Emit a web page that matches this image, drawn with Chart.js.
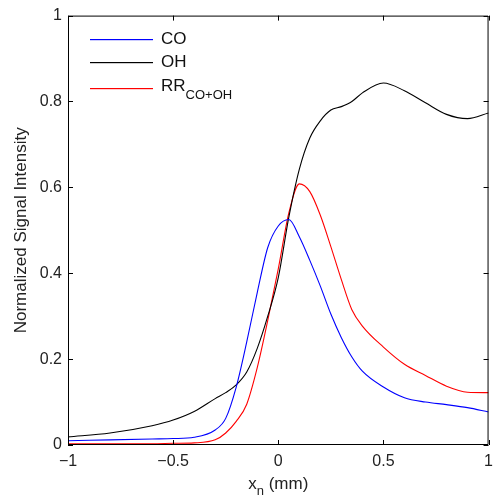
<!DOCTYPE html>
<html>
<head>
<meta charset="utf-8">
<script src="https://cdn.jsdelivr.net/npm/chart.js@4/dist/chart.umd.min.js"></script>
<style>
  html, body { margin: 0; padding: 0; background: #fff; }
  #wrap { width: 500px; height: 498px; }
</style>
</head>
<body>
<div id="wrap"><canvas id="c"></canvas></div>
<script>
// shared x grid (mm)
const xn = [-1, -0.8, -0.6, -0.5, -0.4, -0.3, -0.25, -0.2, -0.15, -0.1, -0.05, 0,
            0.05, 0.1, 0.15, 0.2, 0.25, 0.3, 0.35, 0.4, 0.5, 0.6, 0.7, 0.8, 0.9, 1];

const co = [0.010, 0.012, 0.014, 0.015, 0.018, 0.035, 0.062, 0.135, 0.24, 0.355, 0.46, 0.51,
            0.525, 0.485, 0.43, 0.37, 0.305, 0.25, 0.205, 0.172, 0.135, 0.11, 0.10, 0.094, 0.087, 0.077];

const oh = [0.019, 0.028, 0.045, 0.058, 0.078, 0.108, 0.122, 0.14, 0.17, 0.225, 0.30, 0.39,
            0.53, 0.642, 0.715, 0.755, 0.78, 0.788, 0.80, 0.82, 0.843, 0.825, 0.797, 0.77, 0.76, 0.773];

const rr = [0.003, 0.003, 0.003, 0.004, 0.005, 0.012, 0.028, 0.055, 0.095, 0.18, 0.29, 0.41,
            0.54, 0.608, 0.59, 0.535, 0.462, 0.385, 0.315, 0.277, 0.228, 0.188, 0.162, 0.137, 0.123, 0.122];

const xTicks = [-1, -0.5, 0, 0.5, 1];
const yTicks = [0, 0.2, 0.4, 0.6, 0.8, 1];

const font = "'Liberation Sans', Arial, sans-serif";

const toPoints = (ys) => xn.map((x, i) => ({ x: x, y: ys[i] }));

const line = (label, ys, color) => ({
    label: label,
    data: toPoints(ys),
    borderColor: color,
    borderWidth: 1.1,
    pointRadius: 0,
    fill: false,
    cubicInterpolationMode: 'monotone'
});

// box, inward ticks, axis titles and the legend (MATLAB look)
const decorations = {
    id: 'decorations',
    afterDraw(chart) {
        const ctx = chart.ctx;
        const a = chart.chartArea;
        const xs = chart.scales.x, ys = chart.scales.y;
        ctx.save();
        ctx.strokeStyle = '#000';
        ctx.lineWidth = 1;
        ctx.beginPath();
        ctx.rect(a.left + 0.5, a.top + 0.5, a.right - a.left - 1, a.bottom - a.top - 1);
        xTicks.forEach(v => {
            const px = Math.round(xs.getPixelForValue(v)) + 0.5;
            ctx.moveTo(px, a.bottom); ctx.lineTo(px, a.bottom - 5);
            ctx.moveTo(px, a.top); ctx.lineTo(px, a.top + 5);
        });
        yTicks.forEach(v => {
            const py = Math.round(ys.getPixelForValue(v)) + 0.5;
            ctx.moveTo(a.left, py); ctx.lineTo(a.left + 5, py);
            ctx.moveTo(a.right, py); ctx.lineTo(a.right - 5, py);
        });
        ctx.stroke();

        ctx.fillStyle = '#222';
        // y title
        ctx.save();
        ctx.translate(26, (a.top + a.bottom) / 2);
        ctx.rotate(-Math.PI / 2);
        ctx.font = '17px ' + font;
        ctx.textAlign = 'center';
        ctx.textBaseline = 'alphabetic';
        ctx.fillText('Normalized Signal Intensity', 0, 0);
        ctx.restore();

        // x title with subscript
        const cx = (a.left + a.right) / 2;
        ctx.font = '17px ' + font;
        ctx.textBaseline = 'alphabetic';
        ctx.textAlign = 'left';
        const w1 = ctx.measureText('x').width;
        ctx.font = '13px ' + font;
        const w2 = ctx.measureText('n').width;
        ctx.font = '17px ' + font;
        const w3 = ctx.measureText(' (mm)').width;
        const x0 = cx - (w1 + w2 + w3) / 2;
        const base = 489;
        ctx.fillText('x', x0, base);
        ctx.font = '13px ' + font;
        ctx.fillText('n', x0 + w1, base + 6);
        ctx.font = '17px ' + font;
        ctx.fillText(' (mm)', x0 + w1 + w2, base);

        // legend
        const items = [
            { color: 'rgb(0,0,255)', label: 'CO', sub: '', y: 39 },
            { color: 'rgb(0,0,0)', label: 'OH', sub: '', y: 62 },
            { color: 'rgb(255,0,0)', label: 'RR', sub: 'CO+OH', y: 86 }
        ];
        items.forEach(it => {
            const ly = it.sub ? it.y + 2 : it.y;
            ctx.fillStyle = it.color;
            ctx.fillRect(90, ly, 63, 1.2);
            ctx.font = '17px ' + font;
            ctx.textBaseline = 'middle';
            ctx.fillStyle = '#111';
            ctx.fillText(it.label, 161, it.y);
            if (it.sub) {
                const lw = ctx.measureText(it.label).width;
                ctx.font = '13px ' + font;
                ctx.fillText(it.sub, 161 + lw, it.y + 9);
            }
        });
        ctx.restore();
    }
};

new Chart(document.getElementById('c'), {
    type: 'line',
    data: {
        datasets: [
            line('CO', co, 'rgb(0,0,255)'),
            line('OH', oh, 'rgb(0,0,0)'),
            line('RR CO+OH', rr, 'rgb(255,0,0)')
        ]
    },
    options: {
        responsive: true,
        maintainAspectRatio: false,
        animation: false,
        layout: { padding: { top: 14, right: 2, left: 0, bottom: 0 } },
        scales: {
            x: {
                type: 'linear',
                min: -1,
                max: 1,
                afterFit: (s) => { s.height = 53; },
                afterBuildTicks: (s) => { s.ticks = xTicks.map(v => ({ value: v })); },
                grid: { display: false, drawTicks: false },
                border: { display: false },
                ticks: {
                    padding: 7,
                    color: '#222',
                    font: { family: font, size: 16 },
                    maxRotation: 0,
                    callback: (v) => (v < 0 ? '\u2212' + Math.abs(v) : String(v))
                }
            },
            y: {
                type: 'linear',
                min: 0,
                max: 1,
                afterFit: (s) => { s.width = 68; },
                afterBuildTicks: (s) => { s.ticks = yTicks.map(v => ({ value: v })); },
                grid: { display: false, drawTicks: false },
                border: { display: false },
                ticks: {
                    padding: 6,
                    color: '#222',
                    font: { family: font, size: 16 },
                    callback: (v) => String(Math.round(v * 10) / 10)
                }
            }
        },
        plugins: {
            legend: { display: false },
            tooltip: { enabled: false }
        }
    },
    plugins: [decorations]
});
</script>
</body>
</html>
